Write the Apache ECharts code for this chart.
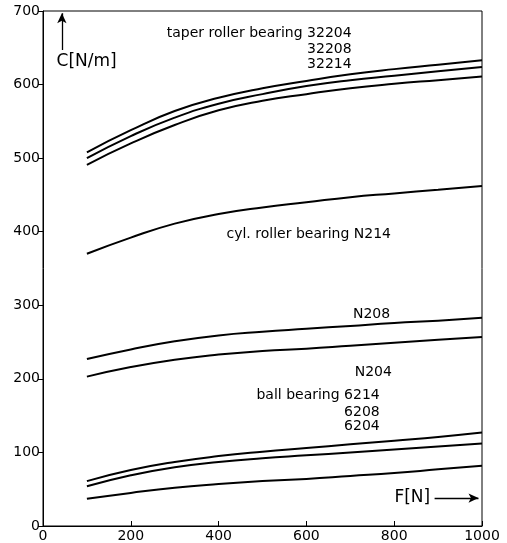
<!DOCTYPE html>
<html><head><meta charset="utf-8">
<script src="https://cdn.jsdelivr.net/npm/echarts@6/dist/echarts.min.js"></script>
<style>html,body{margin:0;padding:0;background:#fff}#c{width:507px;height:543px}</style>
</head><body><div id="c"></div>
<script>
const forces = [100,200,300,400,500,600,700,800,900,1000];
const taper32204 = [508,538,564,582,595,605,614,621,627,633];
const taper32208 = [500,530,555,574,587,598,606,612,618,624];
const taper32214 = [491,520,545,565,578,587,595,601,606,611];
const cylN214 = [370,392,411,424,433,440,447,452,457,462];
const cylN208 = [227,240,251,259,264,268,272,276,279,283];
const cylN204 = [203,216,226,233,238,241,245,249,253,257];
const ball6214 = [61,76,87,95,101,106,111,116,121,127];
const ball6208 = [54,69,80,87,92,96,100,104,108,112];
const ball6204 = [37,45,52,57,61,64,68,72,77,82];
const xTicks = [0,200,400,600,800,1000];
const yTicks = [0,100,200,300,400,500,600,700];

// annotations: [x, y, text, align, fontSize]
const notes = [
  [703, 670, 'taper roller bearing 32204', 'right', 14],
  [703, 648, '32208', 'right', 14],
  [703, 628, '32214', 'right', 14],
  [31, 631, 'C[N/m]', 'left', 17],
  [418, 396, 'cyl. roller bearing N214', 'left', 14],
  [706, 288, 'N208', 'left', 14],
  [710, 209, 'N204', 'left', 14],
  [767, 178, 'ball bearing 6214', 'right', 14],
  [767, 155, '6208', 'right', 14],
  [767, 135, '6204', 'right', 14],
  [882, 38, 'F[N]', 'right', 17]
];
const arrows = [
  [[43, 647], [43, 697]],
  [[892, 38], [992, 38]]
];

const curves = [taper32204, taper32208, taper32214, cylN214, cylN208, cylN204, ball6214, ball6208, ball6204];
const chart = echarts.init(document.getElementById('c'));
const FONT = 'DejaVu Sans';
const series = curves.map(v => ({
  type: 'line', smooth: true, symbol: 'none', silent: true,
  lineStyle: {color: '#000', width: 2},
  data: forces.map((f, i) => [f, v[i]])
}));
series.push({
  type: 'line', data: [], silent: true,
  markLine: {
    silent: true, symbol: ['none', 'arrow'], symbolSize: [7, 10],
    lineStyle: {color: '#000', width: 1.3, type: 'solid'},
    label: {show: false},
    data: arrows.map(a => [{coord: a[0]}, {coord: a[1]}])
  }
});
chart.setOption({
  animation: false,
  grid: {left: 43, right: 25, top: 11, bottom: 17, show: true, borderColor: '#000', borderWidth: 1},
  xAxis: {
    type: 'value', min: 0, max: 1000, interval: 200,
    axisLine: {lineStyle: {color: '#000', width: 1}},
    axisTick: {inside: true, length: 5, lineStyle: {color: '#000'}},
    splitLine: {show: false},
    axisLabel: {color: '#000', fontFamily: FONT, fontSize: 14, margin: 3,
      formatter: v => xTicks.includes(v) ? String(v) : ''}
  },
  yAxis: {
    type: 'value', min: 0, max: 700, interval: 100,
    axisLine: {show: true, lineStyle: {color: '#000', width: 1}},
    axisTick: {show: true, inside: false, length: 5, lineStyle: {color: '#000'}},
    splitLine: {show: false},
    axisLabel: {color: '#000', fontFamily: FONT, fontSize: 14, margin: 3,
      formatter: v => yTicks.includes(v) ? String(v) : ''}
  },
  series: series
});
const graphics = notes.map(n => {
  const p = chart.convertToPixel({gridIndex: 0}, [n[0], n[1]]);
  return {type: 'text', x: p[0], y: p[1], silent: true,
    style: {text: n[2], fill: '#000', font: n[4] + 'px "' + FONT + '"', align: n[3], verticalAlign: 'middle'}};
});
chart.setOption({graphic: graphics});
</script></body></html>
